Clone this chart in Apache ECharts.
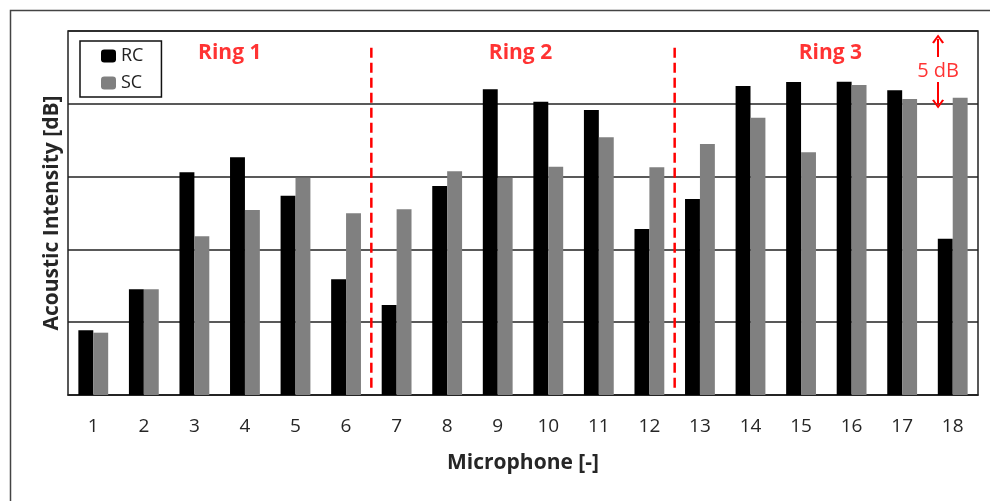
<!DOCTYPE html>
<html>
<head>
<meta charset="utf-8">
<script src="https://cdn.jsdelivr.net/npm/echarts@6/dist/echarts.min.js"></script>
<style>
html,body{margin:0;padding:0;background:#fff;}
#chart{width:990px;height:501px;}
</style>
</head>
<body>
<div id="chart"></div>
<script>
var categories = ['1','2','3','4','5','6','7','8','9','10','11','12','13','14','15','16','17','18'];
var rcValues = [4.44, 7.26, 15.30, 16.33, 13.69, 7.95, 6.18, 14.35, 21.00, 20.14, 19.57, 11.40, 13.46, 21.22, 21.50, 21.52, 20.93, 10.73];
var scValues = [4.28, 7.26, 10.90, 12.71, 14.92, 12.48, 12.75, 15.36, 14.92, 15.68, 17.70, 15.64, 17.24, 19.05, 16.67, 21.29, 20.33, 20.42];
var seriesNames = ['RC', 'SC'];
var ringDividers = [6.5, 12.5];
var ringLabels = [
  {name: 'Ring 1', x: 3.70, y: 23.49},
  {name: 'Ring 2', x: 9.45, y: 23.49},
  {name: 'Ring 3', x: 15.58, y: 23.49}
];
var yMin = 0, yMax = 25, yStep = 5;

var FONT = '"Open Sans"';
var RED = '#ff0000';
var chart = echarts.init(document.getElementById('chart'), null, {renderer: 'canvas'});

var dividerSeries = ringDividers.map(function (x) {
  return {
    type: 'line', xAxisIndex: 1, yAxisIndex: 1, silent: true, symbol: 'none',
    data: [[x, 0.5], [x, 23.9]],
    lineStyle: {color: RED, width: 2.5, type: [10, 5]},
    z: 5
  };
});

var chevron = 'path://M0,9 L5,0 L10,9 L8.4,10 L5,3.2 L1.6,10 Z';

var option = {
  animation: false,
  backgroundColor: '#fff',
  textStyle: {fontFamily: FONT},
  graphic: [{
    type: 'rect', left: 8, top: 8, silent: true,
    shape: {width: 1100, height: 600},
    style: {fill: 'none', stroke: '#444', lineWidth: 1.5}
  }],
  grid: {left: 68, top: 31, right: 12, bottom: 106, show: true, borderColor: '#222', borderWidth: 1.5, backgroundColor: 'transparent'},
  legend: {
    data: seriesNames,
    orient: 'vertical', left: 80, top: 41,
    padding: [6, 18, 5, 21],
    itemWidth: 15, itemHeight: 13, itemGap: 9,
    borderColor: '#111', borderWidth: 1.5,
    textStyle: {fontFamily: FONT, fontSize: 18, color: '#222'}
  },
  xAxis: [{
    type: 'category', data: categories,
    axisTick: {show: false},
    axisLine: {show: true, lineStyle: {color: '#222', width: 1.5}},
    axisLabel: {fontFamily: FONT, fontSize: 19, color: '#262626', margin: 22},
    name: 'Microphone [-]', nameLocation: 'middle', nameGap: 58,
    nameTextStyle: {fontFamily: FONT, fontSize: 21, fontWeight: 'bold', color: '#262626'}
  }, {
    type: 'value', min: 0.5, max: 18.5, show: false
  }],
  yAxis: [{
    type: 'value', min: yMin, max: yMax, interval: yStep,
    axisLabel: {show: false}, axisTick: {show: false},
    axisLine: {show: false},
    splitLine: {show: true, lineStyle: {color: '#222', width: 1.5}},
    name: 'Acoustic Intensity [dB]', nameLocation: 'middle', nameGap: 5,
    nameTextStyle: {fontFamily: FONT, fontSize: 21, fontWeight: 'bold', color: '#262626'}
  }, {
    type: 'value', min: yMin, max: yMax, show: false
  }],
  series: [{
    name: seriesNames[0], type: 'bar', data: rcValues,
    barGap: '0%', barCategoryGap: '41%',
    itemStyle: {color: '#000'}, z: 3
  }, {
    name: seriesNames[1], type: 'bar', data: scValues,
    barGap: '0%', barCategoryGap: '41%',
    itemStyle: {color: '#808080'}, z: 3
  }].concat(dividerSeries).concat([{
    type: 'scatter', xAxisIndex: 1, yAxisIndex: 1, silent: true,
    symbolSize: 0,
    data: ringLabels.map(function (r) { return {value: [r.x, r.y], name: r.name}; }),
    label: {show: true, position: 'inside', formatter: '{b}', fontFamily: FONT, fontSize: 21, fontWeight: 'bold', color: RED},
    z: 6
  }, {
    type: 'scatter', xAxisIndex: 1, yAxisIndex: 1, silent: true,
    symbolSize: 0,
    data: [{value: [17.71, 22.25], name: '5 dB'}],
    label: {show: true, position: 'inside', formatter: '{b}', fontFamily: FONT, fontSize: 20, color: RED},
    markLine: {
      silent: true, symbol: ['none', chevron], symbolSize: [12, 9],
      lineStyle: {color: RED, width: 2, type: 'solid'},
      label: {show: false},
      data: [
        [{coord: [17.71, 23.21]}, {coord: [17.71, 24.45]}],
        [{coord: [17.71, 21.50]}, {coord: [17.71, 19.99]}]
      ]
    },
    z: 6
  }])
};
chart.setOption(option);
</script>
</body>
</html>
